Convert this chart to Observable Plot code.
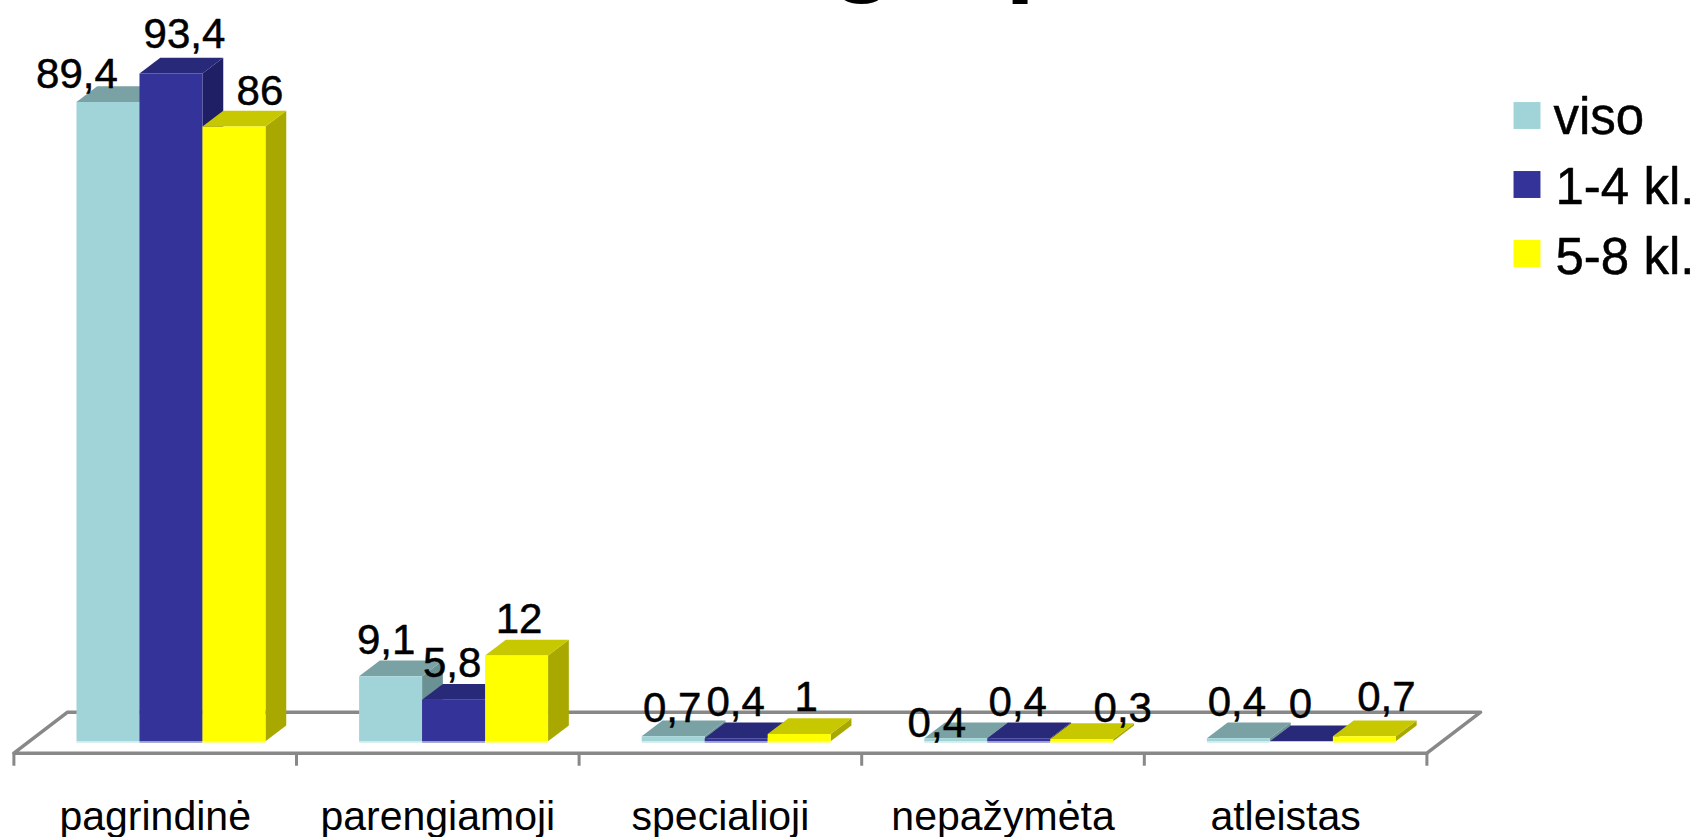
<!DOCTYPE html>
<html lang="lt">
<head>
<meta charset="utf-8">
<title>Grupė</title>
<script src="https://cdn.jsdelivr.net/npm/d3@7"></script>
<script src="https://cdn.jsdelivr.net/npm/@observablehq/plot@0.6"></script>
<style>
  html, body { margin: 0; padding: 0; background: #fff; }
  svg { display: block; }
</style>
</head>
<body>
<div id="chart"></div>
<script>
const categories = ["pagrindinė", "parengiamoji", "specialioji", "nepažymėta", "atleistas"];
const seriesNames = ["viso", "1-4 kl.", "5-8 kl."];
const viso = [89.4, 9.1, 0.7, 0.4, 0.4];
const kl14 = [93.4, 5.8, 0.4, 0.4, 0];
const kl58 = [86, 12, 1, 0.3, 0.7];
const heading = ["grupė"];

const seriesValues = [viso, kl14, kl58];

// Face shades for each series: front, top, side, and the pale rim at the foot of a bar.
const shades = [
  {front: "#a0d4d8", top: "#7aa1a4", side: "#6a9194", rim: "#cde8ea"},
  {front: "#333399", top: "#292979", side: "#1f1f66", rim: "#8f8fc6"},
  {front: "#ffff00", top: "#c8c800", side: "#a8a800", rim: "#ffff66"}
];

// Bar geometry in scale units: x in categories, y in percent.
const barStart = 0.2215;
const barWidth = 0.2229;
const depthX = 0.0735;
const depthY = 2.2;
const floorDepthX = 0.19;
const floorFront = -1.68;
const floorBack = 4.06;
const tickBottom = -3.5;
const rimHeight = 0.2;

// Hand placement of each data label, in pixels from the top of its bar.
const labelNudge = [
  [[-31, -14.5], [13.5, -25.3], [26, -21.8]],
  [[-4.5, -22.6], [-1.5, -23], [2.5, -22]],
  [[-1, -13.7], [-0.5, -22], [7, -23.5]],
  [[-19, -1], [-1, -22], [41, -17]],
  [[-1.5, -22], [-1, -23], [22, -25]]
];

const bars = categories.flatMap((category, c) =>
  seriesValues.map((values, s) => {
    const x0 = c + barStart + s * barWidth;
    return {c, s, value: values[c], x0, x1: x0 + barWidth};
  })
);

// Each bar becomes side, top, front and rim polygons, painted left to right.
const faces = bars.flatMap((b, i) => {
  const shade = shades[b.s];
  const polygon = (name, fill, corners) =>
    corners.map(([x, y]) => ({id: `${i}-${name}`, fill, x, y}));
  const list = [
    polygon("side", shade.side, [[b.x1, 0], [b.x1 + depthX, depthY], [b.x1 + depthX, b.value + depthY], [b.x1, b.value]]),
    polygon("top", shade.top, [[b.x0, b.value], [b.x0 + depthX, b.value + depthY], [b.x1 + depthX, b.value + depthY], [b.x1, b.value]])
  ];
  if (b.value > 0) {
    list.push(polygon("front", shade.front, [[b.x0, 0], [b.x1, 0], [b.x1, b.value], [b.x0, b.value]]));
    list.push(polygon("rim", shade.rim, [[b.x0, 0], [b.x1, 0], [b.x1, -rimHeight], [b.x0, -rimHeight]]));
  }
  return list.flat();
});

const n = categories.length;
const floorOutline = [
  {x: n, y: floorFront}, {x: 0, y: floorFront},
  {x: floorDepthX, y: floorBack}, {x: n + floorDepthX, y: floorBack},
  {x: n, y: floorFront}
];

const labels = bars.map(b => ({
  ...b,
  text: String(b.value).replace(".", ","),
  nudge: labelNudge[b.c][b.s]
}));

const font = "Liberation Sans";
const inked = {fill: "#000", stroke: "#000", strokeWidth: 0.5};

const plot = Plot.plot({
  width: 1700,
  height: 837,
  marginTop: 0,
  marginLeft: 0,
  marginRight: 0,
  marginBottom: 15,
  style: {fontFamily: font, background: "#fff", color: "#000"},
  x: {type: "linear", domain: [0, n], range: [13.4, 1426.4]},
  y: {type: "linear", domain: [0, 93.4], range: [740.7, 73], axis: null},
  color: {type: "identity"},
  marks: [
    // Title, pushed above the top edge so that only its descenders remain.
    Plot.text(heading, {
      frameAnchor: "top-left", dx: 829, dy: -20,
      lineAnchor: "bottom", textAnchor: "start",
      fontSize: 109, fontWeight: "bold", fill: "#000"
    }),
    // Floor of the chart box with its category ticks.
    Plot.line(floorOutline, {x: "x", y: "y", stroke: "#888888", strokeWidth: 3.5}),
    Plot.ruleX(d3.range(n + 1), {y1: floorFront, y2: tickBottom, stroke: "#888888", strokeWidth: 3}),
    // Bars.
    Plot.line(faces, {x: "x", y: "y", z: "id", fill: "fill", stroke: "none"}),
    // Category names.
    Plot.axisX({
      anchor: "bottom",
      ticks: d3.range(n).map(i => i + 0.5),
      tickFormat: t => categories[Math.floor(t)],
      tickSize: 0,
      tickPadding: 7,
      lineAnchor: "bottom",
      fontSize: 41,
      ...inked,
      label: null
    }),
    // Value labels.
    ...labels.map(d => Plot.text([d], {
      x: e => (e.x0 + e.x1) / 2,
      y: "value",
      text: "text",
      dx: d.nudge[0],
      dy: d.nudge[1],
      lineAnchor: "bottom",
      fontSize: 42,
      ...inked
    })),
    // Legend.
    ...seriesNames.flatMap((name, i) => [
      Plot.dot([name], {
        frameAnchor: "top-left", dx: 1526.5, dy: 115 + i * 69,
        symbol: "square", r: 15.2, fill: shades[i].front, stroke: "none"
      }),
      Plot.text([name], {
        frameAnchor: "top-left", dx: i === 0 ? 1553 : 1555, dy: 133 + i * 70,
        lineAnchor: "bottom", textAnchor: "start",
        fontSize: 51,
        ...inked
      })
    ])
  ]
});

document.getElementById("chart").append(plot);
</script>
</body>
</html>
